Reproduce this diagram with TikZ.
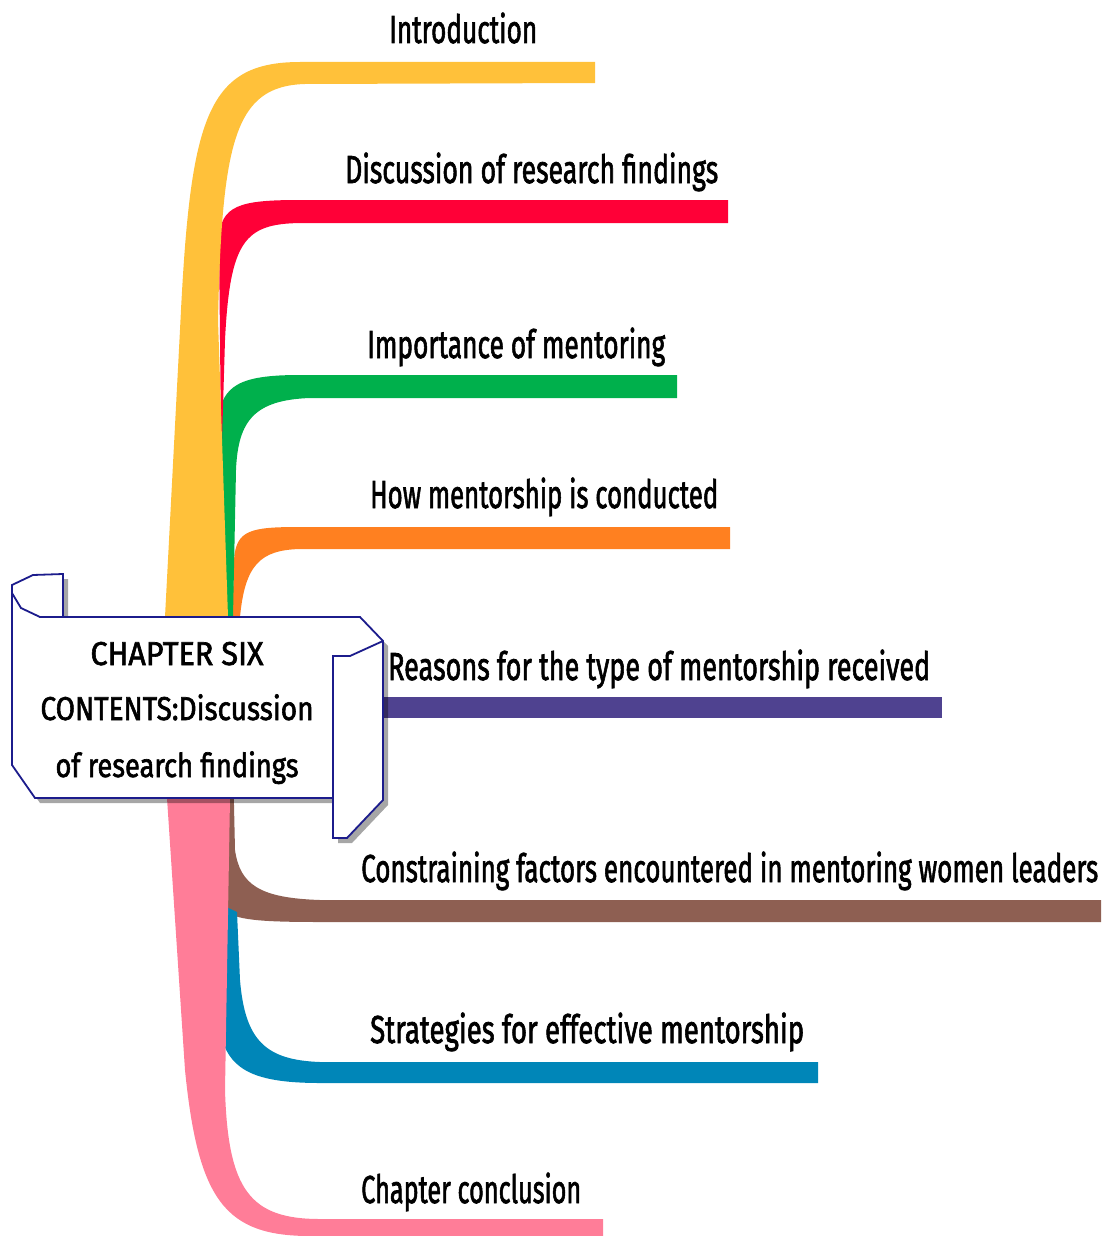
\documentclass[tikz,border=0pt]{standalone}
\usepackage{fontspec}
\setmainfont{Fira Sans}
\newfontfamily\labelfont{Fira Sans}[FakeBold=2]
\usepackage{graphicx}

\definecolor{ribYellow}{HTML}{FFC13A}
\definecolor{ribRed}{HTML}{FF0037}
\definecolor{ribGreen}{HTML}{00B04C}
\definecolor{ribOrange}{HTML}{FF8020}
\definecolor{ribPurple}{HTML}{4F4290}
\definecolor{ribBrown}{HTML}{8E5F52}
\definecolor{ribBlue}{HTML}{0086B8}
\definecolor{ribPink}{HTML}{FF7D98}
\definecolor{scrollBlue}{HTML}{1C1C8C}

\tikzset{
  lbl/.style={anchor=base west, inner sep=0pt, font=\labelfont\fontsize{39}{44}\selectfont},
  ttl/.style={anchor=base, inner sep=0pt, font=\labelfont\fontsize{33}{40}\selectfont},
  scrollline/.style={draw=scrollBlue, line width=1.8pt, line join=miter, line cap=round},
}
% squeeze a label horizontally to a given width, keeping its height
\newcommand{\fitto}[2]{\resizebox{#1pt}{\height}{#2}}

\begin{document}
\begin{tikzpicture}[x=1pt,y=-1pt]
\useasboundingbox (0,0) rectangle (1101,1236);

% ---------- ribbons above the title scroll ----------
\fill[ribOrange] (230,700) -- (234,560) .. controls (236,530) and (250,527) .. (300,527)
  -- (730,527) -- (730,549) -- (300,549) .. controls (260,550) and (245,565) .. (240,617)
  -- (240,700) -- cycle;
\fill[ribGreen] (226,700) -- (218,420) .. controls (222,385) and (240,375) .. (300,375)
  -- (677,375) -- (677,398) -- (310,398) .. controls (255,400) and (238,420) .. (236,470)
  -- (233,617) -- (231,700) -- cycle;
\fill[ribRed] (221,440) -- (219,240) .. controls (220,205) and (240,200) .. (300,200)
  -- (728,200) -- (728,223) -- (300,223) .. controls (245,224) and (230,240) .. (225,340)
  -- (222,440) -- cycle;
\fill[ribYellow] (163,700) -- (165,617) -- (180,330) .. controls (190,120) and (205,62) .. (300,62)
  -- (595,62) -- (595,83) -- (305,84) .. controls (235,86) and (222,140) .. (218,320)
  -- (228,617) -- (229,700) -- cycle;

% ---------- straight ribbon to the right ----------
\fill[ribPurple] (340,697) rectangle (942,718);

% ---------- ribbons below the title scroll ----------
\fill[ribBrown] (224,760) -- (224,910) .. controls (235,920) and (260,922) .. (320,922)
  -- (1101,922) -- (1101,900) -- (320,900) .. controls (260,898) and (240,885) .. (235,850)
  -- (233,760) -- cycle;
\fill[ribBlue] (222,905) -- (222,1040) .. controls (232,1070) and (255,1083) .. (320,1083)
  -- (818,1083) -- (818,1062) -- (320,1062) .. controls (265,1060) and (245,1040) .. (240,980)
  -- (237,912) -- cycle;
\fill[ribPink] (167,760) -- (167,798) -- (185,1070) .. controls (198,1200) and (225,1236) .. (310,1236)
  -- (603,1236) -- (603,1219) -- (320,1219) .. controls (250,1219) and (228,1190) .. (225,1090)
  -- (230,798) -- (230,760) -- cycle;

% ---------- title scroll ----------
% drop shadow
\fill[black, opacity=0.35] ([shift={(5,5)}]12,585) -- ([shift={(5,5)}]33,575) -- ([shift={(5,5)}]63,574)
  -- ([shift={(5,5)}]63,617) -- ([shift={(5,5)}]360,617) -- ([shift={(5,5)}]383,641)
  -- ([shift={(5,5)}]383,800) -- ([shift={(5,5)}]347,838) -- ([shift={(5,5)}]333,838)
  -- ([shift={(5,5)}]333,798) -- ([shift={(5,5)}]35,798) -- ([shift={(5,5)}]12,765) -- cycle;
% paper
\fill[white] (12,585) -- (33,575) -- (63,574) -- (63,617) -- (360,617) -- (383,641)
  -- (383,800) -- (347,838) -- (333,838) -- (333,798) -- (35,798) -- (12,765) -- cycle;
% outline: left curl
\draw[scrollline] (12,593) -- (12,585) -- (33,575) -- (63,574) -- (63,617);
\draw[scrollline] (12,593) -- (21,608) -- (40,617);
% outline: body and right curl
\draw[scrollline] (40,617) -- (360,617) -- (383,641) -- (383,800) -- (347,838) -- (333,838)
  -- (333,656) -- (350,656) -- (383,641);
\draw[scrollline] (333,798) -- (35,798) -- (12,765) -- (12,593);

\node[ttl] (chap1) at (177,665) {\fitto{173}{CHAPTER SIX}};
\node[ttl] (chap2) at (177,720) {\fitto{273}{CONTENTS:Discussion}};
\node[ttl] (chap3) at (177,777) {\fitto{243}{of research findings}};

% ---------- branch labels ----------
\node[lbl] (intro) at (389,43) {\fitto{148}{Introduction}};
\node[lbl] (disc)  at (345,183) {\fitto{373}{Discussion of research findings}};
\node[lbl] (imp)   at (367,358) {\fitto{298}{Importance of mentoring}};
\node[lbl] (how)   at (370,508) {\fitto{348}{How mentorship is conducted}};
\node[lbl] (reas)  at (388,680) {\fitto{542}{Reasons for the type of mentorship received}};
\node[lbl] (cons)  at (361,882) {\fitto{737}{Constraining factors encountered in mentoring women leaders}};
\node[lbl] (strat) at (370,1043) {\fitto{434}{Strategies for effective mentorship}};
\node[lbl] (concl) at (361,1203) {\fitto{220}{Chapter conclusion}};
\end{tikzpicture}
\end{document}
